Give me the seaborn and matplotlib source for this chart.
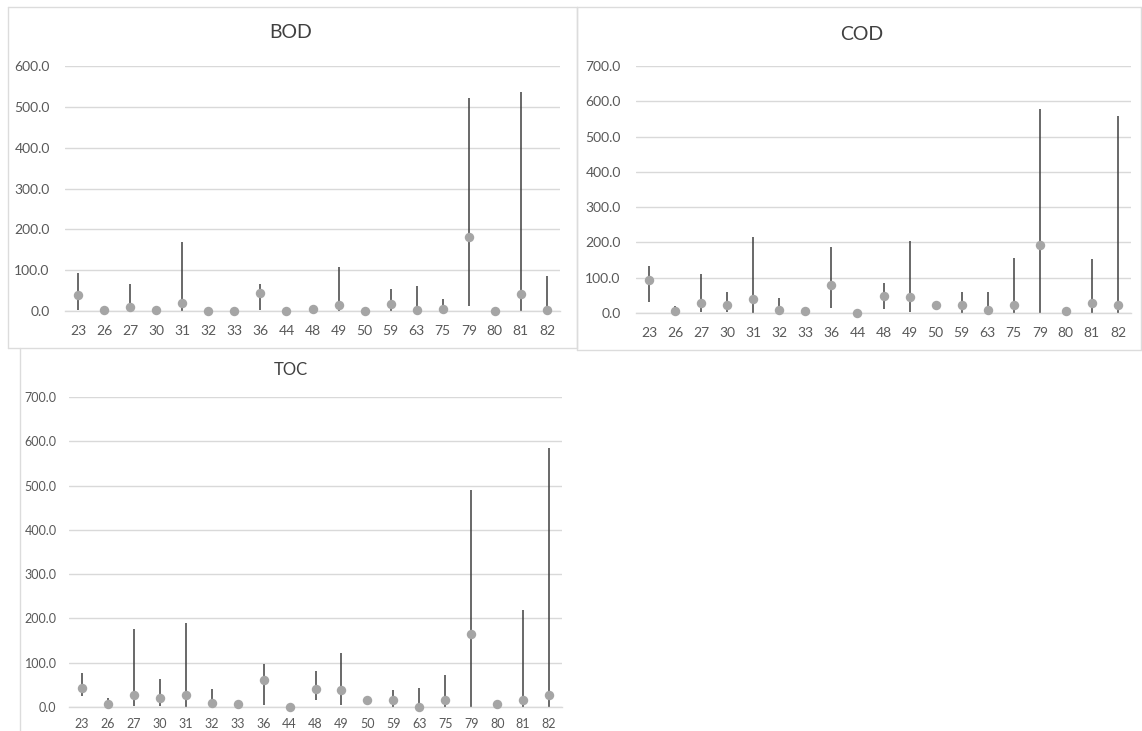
import numpy as np
import pandas as pd
import matplotlib
matplotlib.use("Agg")
import matplotlib.pyplot as plt
import seaborn as sns
from matplotlib.lines import Line2D


# ─────────────────────────────────────────────
# Data
# ─────────────────────────────────────────────

sites = ["23", "26", "27", "30", "31", "32", "33", "36", "44", "48",
         "49", "50", "59", "63", "75", "79", "80", "81", "82"]

bod_mean = [40, 3, 10, 3, 20, 1, 1, 44, 1, 6, 15, 1, 18, 3, 6, 182, 1, 41, 3]
bod_low = [3, 0, 0, 0, 0, 0, 0, 2, 0, 0, 0, 0, 0, 0, 0, 12, 0, 0, 0]
bod_high = [93, 5, 65, 5, 169, 2, 2, 67, 2, 8, 108, 2, 53, 62, 30, 521, 2, 537, 85]

cod_mean = [93, 5, 28, 22, 39, 8, 5, 79, 1, 48, 45, 22, 22, 8, 22, 194, 5, 28, 22]
cod_low = [31, 0, 3, 3, 0, 0, 5, 15, 1, 12, 3, 22, 0, 0, 0, 0, 5, 0, 0]
cod_high = [133, 19, 110, 60, 214, 43, 5, 187, 1, 86, 204, 22, 60, 60, 157, 577, 5, 154, 559]

toc_mean = [42, 6, 28, 20, 28, 10, 6, 62, 1, 40, 38, 15, 15, 1, 15, 164, 6, 15, 26]
toc_low = [25, 0, 2, 2, 0, 0, 6, 4, 1, 16, 4, 10, 0, 0, 0, 0, 6, 0, 0]
toc_high = [76, 21, 176, 64, 190, 40, 6, 97, 1, 81, 122, 21, 38, 42, 72, 490, 6, 218, 584]

W, H = 1142, 731
TEXT = "#595959"
GRID = "#d9d9d9"
BORDER = "#dcdcdc"


def px_axes(fig, left, top, right, bottom):
    """Add an axes given pixel edges measured from the top-left corner."""
    return fig.add_axes([left / W, 1 - bottom / H, (right - left) / W, (bottom - top) / H])


def draw_panel(ax, title_xy, title, mean, low, high, ymax,
               title_size=14, tick_size=10, ypad=11, xpad=10):
    df = pd.DataFrame({"site": sites, "mean": mean, "low": low, "high": high})

    ax.vlines(np.arange(len(df)), df["low"], df["high"],
              color="#404040", lw=1.1, zorder=2)
    sns.stripplot(data=df, x="site", y="mean", order=sites, jitter=False,
                  color="#a5a5a5", size=6.8, linewidth=0, ax=ax, zorder=3,
                  clip_on=False)

    ax.set_xlim(-0.5, len(sites) - 0.5)
    ax.set_ylim(0, ymax)
    ax.set_yticks(np.arange(0, ymax + 1, 100))
    ax.set_yticklabels([f"{v:.1f}" for v in np.arange(0, ymax + 1, 100)])
    ax.set_xlabel("")
    ax.set_ylabel("")

    ax.yaxis.grid(True, color=GRID, lw=1)
    ax.xaxis.grid(False)
    ax.set_axisbelow(True)
    for side in ["top", "right", "left"]:
        ax.spines[side].set_visible(False)
    ax.spines["bottom"].set_color(GRID)
    ax.spines["bottom"].set_linewidth(1)
    ax.tick_params(axis="y", length=0, pad=ypad, labelsize=tick_size, labelcolor=TEXT)
    ax.tick_params(axis="x", length=0, pad=xpad, labelsize=tick_size, labelcolor=TEXT)

    fig.text(title_xy[0] / W, 1 - title_xy[1] / H, title, ha="center", va="center",
             fontsize=title_size, color="#404040")


sns.set_theme(style="white")
plt.rcParams["font.family"] = ["Lato", "DejaVu Sans"]

fig = plt.figure(figsize=(W / 100, H / 100), dpi=100)
fig.patch.set_facecolor("white")


# chart frames
def frame(x0, y0, x1, y1):
    for xs, ys in [((x0, x1), (y0, y0)), ((x0, x1), (y1, y1)),
                   ((x0, x0), (y0, y1)), ((x1, x1), (y0, y1))]:
        fig.add_artist(Line2D([x / W for x in xs], [1 - y / H for y in ys],
                              color=BORDER, lw=1.0))


frame(8, 7, 577, 348)
frame(577, 7, 1141, 350)
fig.add_artist(Line2D([20 / W, 20 / W], [1 - 348 / H, 0], color=BORDER, lw=1.0))

ax_bod = px_axes(fig, 65, 66, 560, 311)
draw_panel(ax_bod, (291, 33), "BOD", bod_mean, bod_low, bod_high, 600)

ax_cod = px_axes(fig, 636, 66, 1131, 313)
draw_panel(ax_cod, (862, 35), "COD", cod_mean, cod_low, cod_high, 700)

ax_toc = px_axes(fig, 69, 397, 562, 707)
draw_panel(ax_toc, (291, 370), "TOC", toc_mean, toc_low, toc_high, 700,
           title_size=12, tick_size=9, ypad=9, xpad=8)

fig.savefig("out.png", dpi=100, facecolor="white")
plt.close(fig)
